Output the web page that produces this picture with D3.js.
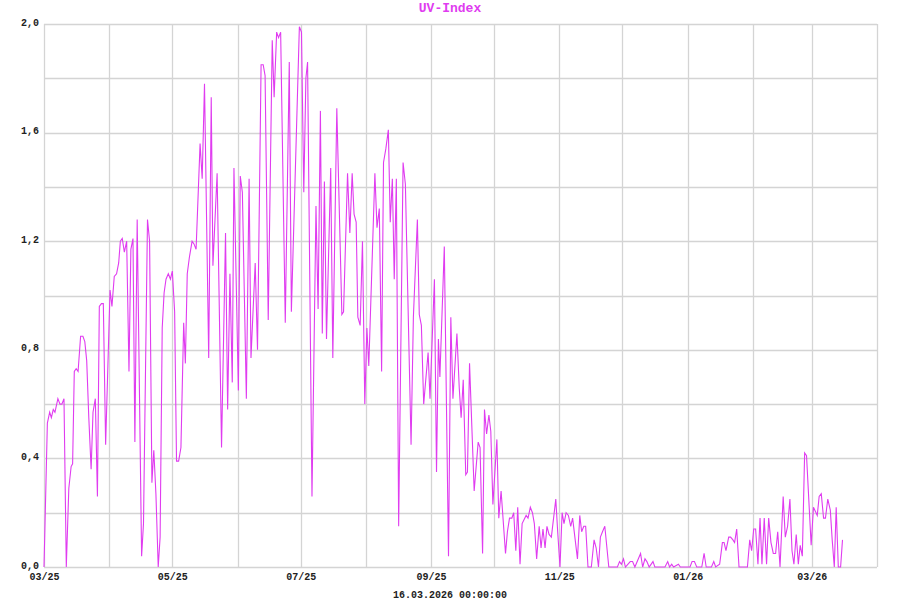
<!DOCTYPE html>
<html>
<head>
<meta charset="utf-8">
<script src="https://cdn.jsdelivr.net/npm/d3@7"></script>
<style>
  html, body { margin: 0; padding: 0; background: #fff; }
  svg { display: block; }
  text { font-family: "Liberation Mono", "DejaVu Sans Mono", monospace; font-weight: bold; }
</style>
</head>
<body>
<svg id="chart" width="900" height="600"></svg>
<script>
// ---- data ----
const chartTitle = "UV-Index";
const footerText = "16.03.2026 00:00:00";
const startDate = "2025-03-01";
const endDate = "2026-04-01";
// day offsets from startDate
const dayOffsets = [
  0,1.6,2.7,3.5,4.4,5.2,6.6,7.6,8.5,9.5,10.6,11.8,12.9,13.6,14.4,15.3,16.2,17.4,18.5,19.4,
  20.3,21.3,22.4,23.3,24.4,25.4,26.3,27.3,28.2,29.3,31.4,32.3,33.4,34.5,35.5,36.3,37.2,38.2,39.3,40.4,
  41.3,42.3,43.2,44.3,46.4,47.3,49.2,50.2,51.3,52.2,53.2,54.3,55.2,56.2,57.1,58,59.1,60.1,61.0,62.1,
  63,64,65.1,66.4,67.2,68.1,69.1,70.4,71.3,72.3,74.2,75.2,76.3,78.3,79.5,80.3,82.3,84.4,86.3,87.3,
  88.4,89.5,90.3,92.4,93.3,94.3,96.2,97.5,98.4,100.4,101.5,103.2,104.2,105.1,106.6,108.5,109.4,110.6,111.5,112.5,
  114.7,116.6,117.6,121.4,122.4,123.5,124.5,125.3,127.4,129.3,130.3,131.4,132.3,133.3,134.3,136.3,137.3,139.2,141.6,142.4,
  144.3,145.4,146.5,147.4,148.4,149.2,150.3,151.4,152.5,153.5,154.4,157.3,158.3,159.4,160.5,161.4,162.5,163.7,164.6,165.6,
  166.5,167.5,168.6,170.7,171.8,174.5,175.6,177.5,178.4,179.4,180.5,182.6,183.5,185.6,186.6,187.5,188.2,190.3,192.3,193.4,
  194.4,196.3,197.4,198.3,199.3,200.5,201.3,202.3,204.5,206.4,207.3,208.5,209.4,210.4,211.5,212.4,213.4,215.3,216.2,217.3,
  219.4,220.3,221.3,222.4,223.3,224.3,225.2,226.3,227.3,229.2,230.1,231.2,232.2,233.1,234.2,235.4,236.3,237.2,238.2,239.1,
  240.1,241.2,243.3,244.2,245.3,246.3,247.2,248.2,249.3,250.4,251.3,253.6,254.7,255.6,256.6,257.5,258.6,260.2,261.5,262.5,
  263.6,264.5,265.5,266.6,268.5,272.6,273.6,274.5,275.5,276.4,278.7,279.8,280.9,283.6,284.6,285.7,286.6,287.7,289.5,290.4,
  295.2,296.5,297.4,298.4,299.3,301.6,302.5,307.1,308.1,309.2,310.3,312.7,313.8,314.8,317.3,318.4,319.3,321.2,322.5,323.3,
  324.2,325.5,326.4,327.5,328.3,329.3,330.4,334.4,335.5,336.4,337.4,338.3,339.4,340.4,341.3,342.4,343.5,344.5,345.6,346.7,
  347.8,348.8,349.9,351.4,352.4,353.5,354.6,355.6,356.5,357.6,358.6,359.5,360.5,361.6,362.5,364.7,365.8,367.6,368.5,369.5,
  370.6,371.5,372.6,373.8,374.7,375.7,376.6,377.6,378.7,379.6
];
const uvValues = [
  0,0.53,0.57,0.55,0.58,0.57,0.62,0.6,0.6,0.62,0,0.29,0.37,0.38,0.72,0.73,0.72,0.85,0.85,0.83,
  0.76,0.55,0.36,0.57,0.62,0.26,0.96,0.97,0.97,0.45,1.02,0.96,1.07,1.08,1.12,1.2,1.21,1.16,1.2,0.72,
  1.17,1.21,0.46,1.28,0.04,0.16,1.28,1.2,0.31,0.43,0.27,0,0.11,0.88,1.01,1.06,1.08,1.06,1.09,0.94,
  0.39,0.39,0.44,0.9,0.75,1.08,1.14,1.2,1.19,1.17,1.56,1.43,1.78,0.77,1.73,1.11,1.45,0.44,1.23,0.58,
  1.08,0.68,1.47,0.65,1.44,1.38,0.62,1.43,0.77,1.12,0.8,1.85,1.85,1.81,0.91,1.94,1.73,1.97,1.95,1.97,
  0.9,1.86,0.94,1.99,1.97,1.38,1.8,1.86,0.26,1.33,0.95,1.68,0.86,1.42,0.84,1.47,0.77,1.69,0.93,0.94,
  1.45,1.23,1.45,1.3,1.27,0.92,0.89,1.2,0.6,0.88,0.74,1.45,1.25,1.32,0.72,1.49,1.54,1.61,1.27,1.43,
  1.06,1.43,0.15,1.49,1.41,0.45,0.92,1.28,0.93,0.89,0.6,0.79,0.62,1.06,0.35,0.84,0.7,1.18,0.04,0.92,
  0.62,0.86,0.66,0.55,0.69,0.34,0.35,0.75,0.28,0.46,0.44,0.05,0.58,0.49,0.56,0.5,0.23,0.47,0.18,0.28,
  0.05,0.13,0.18,0.18,0.2,0.06,0.22,0.01,0.16,0.19,0.18,0.22,0.2,0.16,0.03,0.15,0.07,0.14,0.07,0.15,
  0.12,0.11,0.25,0.13,0,0.2,0.16,0.2,0.19,0.15,0.18,0.03,0.19,0.13,0.15,0.15,0,0,0.1,0.07,
  0,0.11,0.13,0.15,0,0,0.02,0.01,0.03,0,0.02,0.02,0,0.05,0,0.03,0.02,0,0.02,0,
  0,0.02,0,0.01,0,0.01,0,0,0.02,0.02,0,0,0.05,0,0,0.02,0,0.01,0.09,0.09,
  0.06,0.11,0.11,0.1,0.09,0.14,0,0,0.1,0.06,0.14,0.14,0.01,0.18,0.01,0.18,0.01,0.18,0.09,0.05,
  0.05,0.13,0,0.26,0.11,0.15,0.25,0.06,0.01,0.12,0.01,0.08,0.04,0.42,0.41,0.08,0.22,0.19,0.26,0.27,
  0.18,0.18,0.25,0.21,0.1,0,0.22,0,0,0.1
];
const yTickValues = [0, 0.4, 0.8, 1.2, 1.6, 2.0];
const yTickLabels = ["0,0", "0,4", "0,8", "1,2", "1,6", "2,0"];
const yGridValues = [0, 0.2, 0.4, 0.6, 0.8, 1.0, 1.2, 1.4, 1.6, 1.8, 2.0];
const xTickDates = ["2025-03-01","2025-05-01","2025-07-01","2025-09-01","2025-11-01","2026-01-01","2026-03-01"];
const xTickLabels = ["03/25", "05/25", "07/25", "09/25", "11/25", "01/26", "03/26"];

// ---- drawing ----
const W = 900, H = 600;
const margin = { left: 44, right: 23, top: 24, bottom: 33 };
const svg = d3.select("#chart");
const parse = d3.utcParse("%Y-%m-%d");
const t0 = parse(startDate);
const data = dayOffsets.map((d, i) => ({ date: new Date(t0.getTime() + d * 864e5), v: uvValues[i] }));

const x = d3.scaleUtc().domain([t0, parse(endDate)]).range([margin.left, W - margin.right]);
const y = d3.scaleLinear().domain([0, 2]).range([H - margin.bottom, margin.top]);

const gridColor = "#d4d4d4";
const lineColor = "#e03cf0";

// vertical monthly grid
const months = d3.utcMonth.range(t0, parse(endDate));
svg.append("g").selectAll("line").data(months.concat([parse(endDate)])).join("line")
  .attr("x1", d => Math.round(x(d)) + 0.5).attr("x2", d => Math.round(x(d)) + 0.5)
  .attr("y1", y(2)).attr("y2", y(0))
  .attr("stroke", gridColor).attr("stroke-width", 1.3);

// horizontal grid
svg.append("g").selectAll("line").data(yGridValues).join("line")
  .attr("x1", x.range()[0]).attr("x2", x.range()[1])
  .attr("y1", d => Math.round(y(d)) + 0.5).attr("y2", d => Math.round(y(d)) + 0.5)
  .attr("stroke", gridColor).attr("stroke-width", 1.3);

// y axis labels
const yAxis = d3.axisLeft(y).tickValues(yTickValues)
  .tickFormat((d, i) => yTickLabels[i]).tickSize(0).tickPadding(5);
const gy = svg.append("g").attr("transform", `translate(${margin.left},0)`).call(yAxis);
gy.select(".domain").remove();
gy.selectAll("text").attr("font-size", 10).attr("font-family", "Liberation Mono, monospace")
  .attr("font-weight", "bold").attr("fill", "#222").attr("dy", "0.1em");

// x axis labels
const xAxis = d3.axisBottom(x).tickValues(xTickDates.map(parse))
  .tickFormat((d, i) => xTickLabels[i]).tickSize(0).tickPadding(6);
const gx = svg.append("g").attr("transform", `translate(0,${y(0)})`).call(xAxis);
gx.select(".domain").remove();
gx.selectAll("text").attr("font-size", 10).attr("font-family", "Liberation Mono, monospace")
  .attr("font-weight", "bold").attr("fill", "#222");

// data line
const line = d3.line().x(d => x(d.date)).y(d => y(d.v));
svg.append("path").datum(data).attr("d", line)
  .attr("fill", "none").attr("stroke", lineColor).attr("stroke-width", 1.1)
  .attr("stroke-linejoin", "miter");

// title
svg.append("text").attr("x", W / 2).attr("y", 12).attr("text-anchor", "middle")
  .attr("font-size", 13).attr("fill", lineColor).text(chartTitle);

// footer
svg.append("text").attr("x", W / 2).attr("y", 598).attr("text-anchor", "middle")
  .attr("font-size", 10).attr("fill", "#222").text(footerText);
</script>
</body>
</html>
